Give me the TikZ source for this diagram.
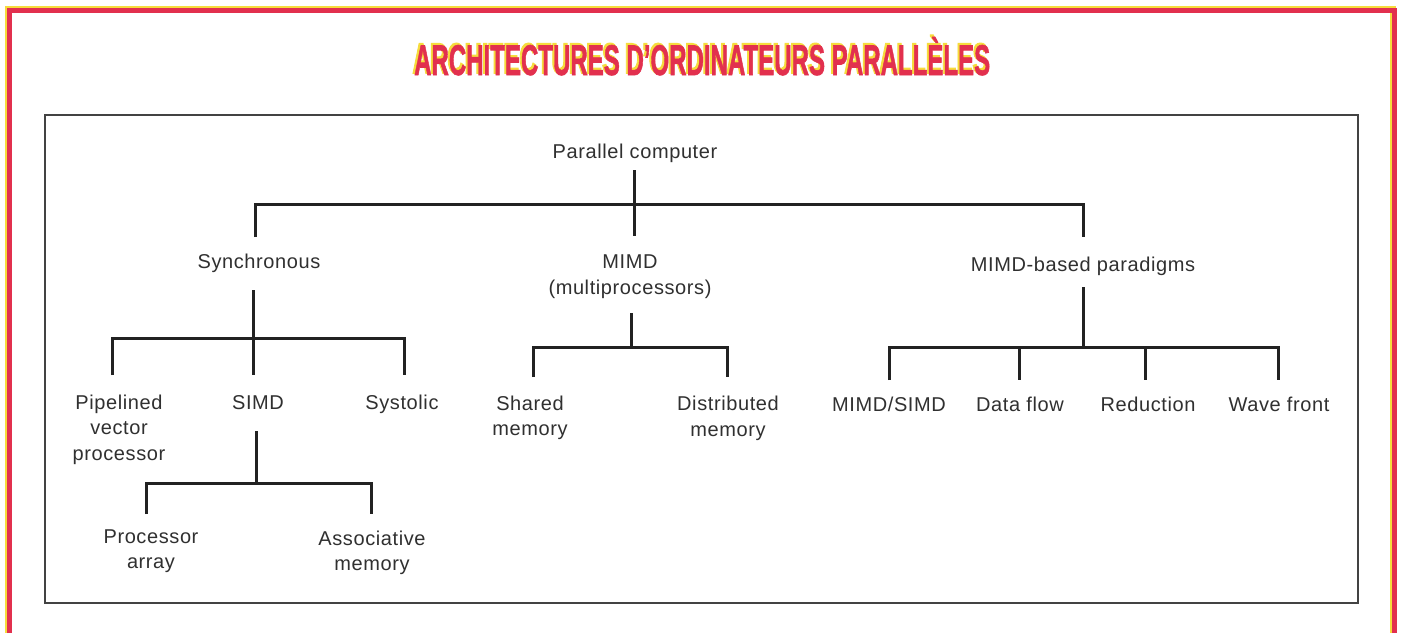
\documentclass[tikz,border=0pt]{standalone}
\usepackage{fontspec}
\setmainfont{Liberation Sans}[LetterSpace=3]
\newfontfamily\titlefont{Liberation Sans Bold}[FakeBold=1.6]
\newfontfamily\titlefontheavy{Liberation Sans Bold}[FakeBold=3.2]
\definecolor{framered}{HTML}{E2304E}
\definecolor{frameyellow}{HTML}{F6DC3C}
\definecolor{inkgray}{HTML}{222222}
\definecolor{textgray}{HTML}{303030}
\newcommand{\titlestring}{ARCHITECTURES D’ORDINATEURS PARALL\smash{È}LES}
\begin{document}
\begin{tikzpicture}[x=1pt,y=-1pt,
  lbl/.style={font=\fontsize{20}{25.5}\selectfont, text=textgray, anchor=base, inner sep=0pt, align=center},
  tlayer/.style={anchor=base west, inner sep=0pt},
  tree/.style={draw=inkgray, line width=3pt, line cap=butt, line join=miter},
  boxline/.style={draw=inkgray!85, line width=1.3pt}]
\useasboundingbox (0,0) rectangle (1403,632);
\fill[white] (0,0) rectangle (1403,632);
% outer frame (misregistered yellow under red)
\draw[frameyellow, line width=5.5pt] (8,650) -- (8,9) -- (1393,9) -- (1393,650);
\draw[framered, line width=5pt] (9.5,650) -- (9.5,10.5) -- (1394.5,10.5) -- (1394.5,650);
% title: yellow misregistered print layer under the red one
\node[tlayer, text=frameyellow] (titleshadow) at (412.2,73.2) {\resizebox{576pt}{30pt}{\titlefontheavy\titlestring}};
\node[tlayer, text=framered] (title) at (414,75) {\resizebox{576pt}{30pt}{\titlefont\titlestring}};
% inner box
\draw[boxline] (45,115) rectangle (1358,603);

% labels (base anchor = baseline of the last line)
\node[lbl] (root) at (635,158) {Parallel computer};
\node[lbl] (sync) at (259,268) {Synchronous};
\node[lbl] (mimd) at (630,294) {MIMD\\(multiprocessors)};
\node[lbl] (mbp)  at (1083,271) {MIMD-based paradigms};
\node[lbl] (pvp)  at (119,460) {Pipelined\\vector\\processor};
\node[lbl] (simd) at (258,409) {SIMD};
\node[lbl] (syst) at (402,409) {Systolic};
\node[lbl] (pa)   at (151,568.5) {Processor\\array};
\node[lbl] (am)   at (372,570.5) {Associative\\memory};
\node[lbl] (shm)  at (530,435.5) {Shared\\memory};
\node[lbl] (dim)  at (728,436) {Distributed\\memory};
\node[lbl] (ms)   at (889,411) {MIMD/SIMD};
\node[lbl] (df)   at (1020,411) {Data flow};
\node[lbl] (red)  at (1148,411) {Reduction};
\node[lbl] (wf)   at (1279,411) {Wave front};

% connector coordinates
\coordinate (rT) at (634,170); \coordinate (rB) at (634,236);
\coordinate (rL) at (255,204); \coordinate (rR) at (1083,204);
\coordinate (rLd) at (255,237); \coordinate (rRd) at (1083,237);

\coordinate (sT) at (253,290); \coordinate (sB) at (253,375);
\coordinate (sL) at (112,338); \coordinate (sR) at (404,338);
\coordinate (sLd) at (112,375); \coordinate (sRd) at (404,375);

\coordinate (iT) at (256,431); \coordinate (iJ) at (256,483);
\coordinate (iL) at (146,483); \coordinate (iR) at (371,483);
\coordinate (iLd) at (146,514); \coordinate (iRd) at (371,514);

\coordinate (mT) at (631,313); \coordinate (mJ) at (631,347);
\coordinate (mL) at (533,347); \coordinate (mR) at (727,347);
\coordinate (mLd) at (533,377); \coordinate (mRd) at (727,377);

\coordinate (pT) at (1083,287); \coordinate (pJ) at (1083,347);
\coordinate (p1) at (889,347); \coordinate (p4) at (1278,347);
\coordinate (p1d) at (889,380); \coordinate (p2) at (1019,347); \coordinate (p2d) at (1019,380);
\coordinate (p3) at (1145,347); \coordinate (p3d) at (1145,380); \coordinate (p4d) at (1278,380);

% connectors
\draw[tree] (rT) -- (rB);
\draw[tree] (rLd) -- (rL) -- (rR) -- (rRd);

\draw[tree] (sT) -- (sB);
\draw[tree] (sLd) -- (sL) -- (sR) -- (sRd);

\draw[tree] (iT) -- (iJ);
\draw[tree] (iLd) -- (iL) -- (iR) -- (iRd);

\draw[tree] (mT) -- (mJ);
\draw[tree] (mLd) -- (mL) -- (mR) -- (mRd);

\draw[tree] (pT) -- (pJ);
\draw[tree] (p1d) -- (p1) -- (p4) -- (p4d);
\draw[tree] (p2) -- (p2d);
\draw[tree] (p3) -- (p3d);
\end{tikzpicture}
\end{document}
